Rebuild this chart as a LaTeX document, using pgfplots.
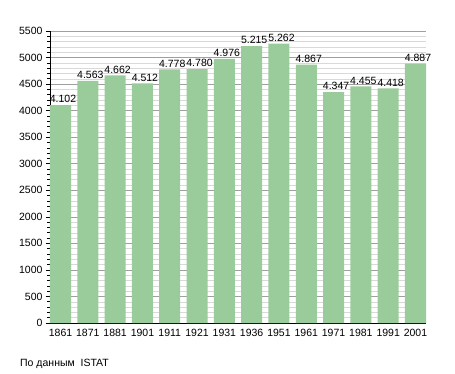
\documentclass[border=0pt]{standalone}
\usepackage{pgfplots}
\pgfplotsset{compat=1.18}
\usepackage{fontspec}
\setmainfont{Liberation Sans}
\definecolor{barg}{RGB}{154,203,154}
\begin{document}
\begin{tikzpicture}[x=1pt,y=1pt]
\useasboundingbox (0,0) rectangle (455,373);
\begin{axis}[
  at={(50pt,50pt)}, anchor=south west,
  scale only axis, width=376pt, height=292pt,
  ymin=0, ymax=5500,
  xmin=-0.385, xmax=13.385,
  ytick={0,500,...,5500},
  minor y tick num=4,
  xtick={0,...,13},
  xticklabels={1861,1871,1881,1901,1911,1921,1931,1936,1951,1961,1971,1981,1991,2001},
  axis lines=left,
  axis line style={-, black, line width=0.8pt},
  tick align=outside,
  x tick style={draw=none},
  y tick style={black, line width=0.6pt},
  major tick length=4pt, minor tick length=2.5pt,
  ymajorgrids, yminorgrids,
  major grid style={gray!75, line width=0.5pt},
  minor grid style={gray!30, line width=0.4pt},
  tick label style={font=\fontsize{10.5}{12}\selectfont},
  /pgf/number format/assume math mode=true,
  yticklabel style={/pgf/number format/1000 sep={}},
  xticklabel style={yshift=1pt},
  ybar, bar width=0.77, bar shift=0pt,
  nodes near coords,
  every node near coord/.append style={font=\fontsize{10.5}{12}\selectfont, /pgf/number format/1000 sep={.}, /pgf/number format/assume math mode=true, inner sep=2pt, xshift=2.5pt},
  clip=false,
]
\addplot[fill=barg, draw=none] coordinates {
(0,4102) (1,4563) (2,4662) (3,4512) (4,4778) (5,4780) (6,4976)
(7,5215) (8,5262) (9,4867) (10,4347) (11,4455) (12,4418) (13,4887)};
\end{axis}
\node[anchor=base west, font=\fontsize{10.5}{12}\selectfont, inner sep=0] at (20,7) {По данным\ \ ISTAT};
\end{tikzpicture}
\end{document}
